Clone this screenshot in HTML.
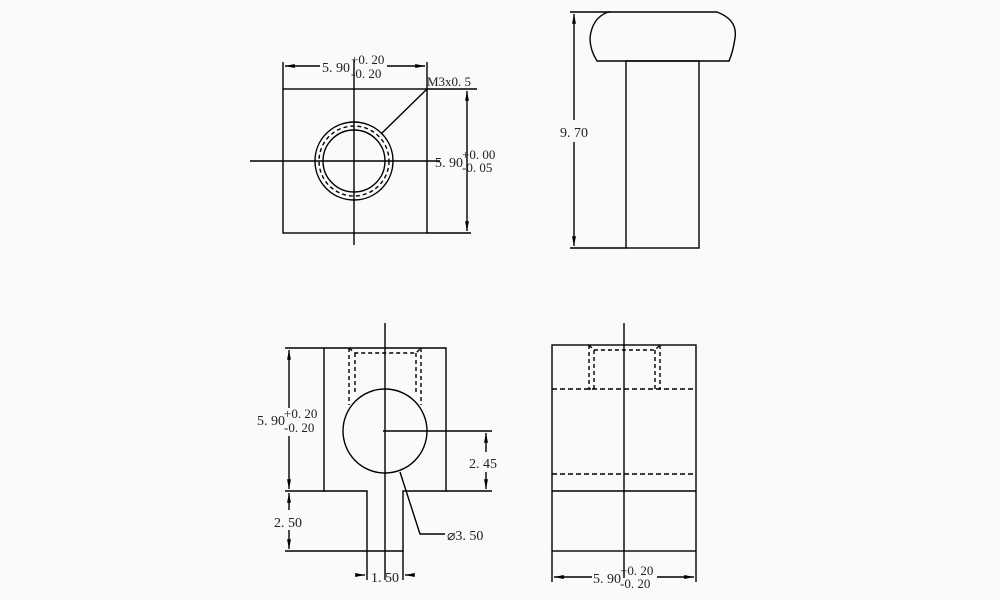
<!DOCTYPE html>
<html><head><meta charset="utf-8"><style>
html,body{margin:0;padding:0;background:#fafafa}
svg{display:block}
text{font-family:"Liberation Serif",serif;font-size:14px;fill:#222}
.t{font-size:13px}
</style></head><body>
<svg width="1000" height="600" viewBox="0 0 1000 600" xmlns="http://www.w3.org/2000/svg">
<defs>
<marker id="a" viewBox="0 0 10 10" refX="10" refY="5" markerWidth="7" markerHeight="7" orient="auto-start-reverse"><path d="M0,3 L10,5 L0,7z" fill="#000"/></marker>
</defs>
<g stroke="#000" stroke-width="1.4" fill="none">
<rect x="283" y="89" width="144" height="144"/>
<line x1="354" y1="60" x2="354" y2="245"/>
<line x1="250" y1="161" x2="440" y2="161"/>
<circle cx="354" cy="161" r="39"/>
<circle cx="354" cy="161" r="31"/>
<circle cx="354" cy="161" r="35" stroke-dasharray="4,3"/>
<line x1="283" y1="62" x2="283" y2="89"/>
<line x1="427" y1="62" x2="427" y2="89"/>
<line x1="285" y1="66" x2="320" y2="66" marker-start="url(#a)"/>
<line x1="387" y1="66" x2="425" y2="66" marker-end="url(#a)"/>
<line x1="427" y1="89" x2="477" y2="89"/>
<line x1="427" y1="233" x2="471" y2="233"/>
<line x1="467" y1="91" x2="467" y2="231" marker-start="url(#a)" marker-end="url(#a)"/>
<line x1="427" y1="89" x2="381" y2="134"/>
<path d="M608,12 L717,12 Q738,20 735,38 Q733,52 729,61 L597,61 Q590,50 590,38 Q592,18 608,12 Z"/>
<rect x="626" y="61" width="73" height="187"/>
<line x1="570" y1="12" x2="610" y2="12"/>
<line x1="570" y1="248" x2="626" y2="248"/>
<line x1="574" y1="14" x2="574" y2="120" marker-start="url(#a)"/>
<line x1="574" y1="142" x2="574" y2="246" marker-end="url(#a)"/>
<path d="M324,348 L446,348 L446,491 L403,491 L403,551 L367,551 L367,491 L324,491 Z"/>
<line x1="285" y1="348" x2="324" y2="348"/>
<line x1="285" y1="491" x2="324" y2="491"/>
<line x1="285" y1="551" x2="367" y2="551"/>
<line x1="289" y1="350" x2="289" y2="408" marker-start="url(#a)"/>
<line x1="289" y1="436" x2="289" y2="489" marker-end="url(#a)"/>
<line x1="289" y1="493" x2="289" y2="510" marker-start="url(#a)"/>
<line x1="289" y1="530" x2="289" y2="549" marker-end="url(#a)"/>
<circle cx="385" cy="431" r="42"/>
<line x1="385" y1="323" x2="385" y2="580"/>
<line x1="383" y1="431" x2="492" y2="431"/>
<line x1="446" y1="491" x2="492" y2="491"/>
<line x1="486" y1="433" x2="486" y2="452" marker-start="url(#a)"/>
<line x1="486" y1="472" x2="486" y2="489" marker-end="url(#a)"/>
<path d="M349,348 L355,353 L416,353 L421,348" stroke-dasharray="4,3"/>
<line x1="349" y1="348" x2="349" y2="405" stroke-dasharray="4,3"/>
<line x1="355" y1="353" x2="355" y2="395" stroke-dasharray="4,3"/>
<line x1="421" y1="348" x2="421" y2="405" stroke-dasharray="4,3"/>
<line x1="416" y1="353" x2="416" y2="395" stroke-dasharray="4,3"/>
<polyline points="400,472 420,534 445,534"/>
<line x1="367" y1="551" x2="367" y2="580"/>
<line x1="403" y1="551" x2="403" y2="580"/>
<line x1="357" y1="575" x2="365" y2="575" marker-end="url(#a)"/>
<line x1="413" y1="575" x2="405" y2="575" marker-end="url(#a)"/>
<rect x="552" y="345" width="144" height="206"/>
<line x1="552" y1="491" x2="696" y2="491"/>
<line x1="552" y1="389" x2="696" y2="389" stroke-dasharray="5,3"/>
<line x1="552" y1="474" x2="696" y2="474" stroke-dasharray="5,3"/>
<line x1="624" y1="323" x2="624" y2="578"/>
<path d="M589,345 L594,350 L655,350 L660,345" stroke-dasharray="4,3"/>
<path d="M589,345 L589,389 L594,389 L594,350" stroke-dasharray="4,3"/>
<path d="M660,345 L660,389 L655,389 L655,350" stroke-dasharray="4,3"/>
<line x1="552" y1="551" x2="552" y2="582"/>
<line x1="696" y1="551" x2="696" y2="582"/>
<line x1="554" y1="577" x2="592" y2="577" marker-start="url(#a)"/>
<line x1="657" y1="577" x2="694" y2="577" marker-end="url(#a)"/>
</g>
<text x="322" y="72">5. 90</text>
<text x="351" y="64" class="t">+0. 20</text>
<text x="351" y="78" class="t">-0. 20</text>
<text x="427" y="86" class="t">M3x0. 5</text>
<text x="435" y="167">5. 90</text>
<text x="462" y="159" class="t">+0. 00</text>
<text x="462" y="172" class="t">-0. 05</text>
<text x="560" y="137">9. 70</text>
<text x="257" y="425">5. 90</text>
<text x="284" y="418" class="t">+0. 20</text>
<text x="284" y="432" class="t">-0. 20</text>
<text x="469" y="468">2. 45</text>
<text x="274" y="527">2. 50</text>
<text x="447" y="540">⌀3. 50</text>
<text x="371" y="582">1. 50</text>
<text x="593" y="583">5. 90</text>
<text x="620" y="575" class="t">+0. 20</text>
<text x="620" y="588" class="t">-0. 20</text>
</svg>
</body></html>
